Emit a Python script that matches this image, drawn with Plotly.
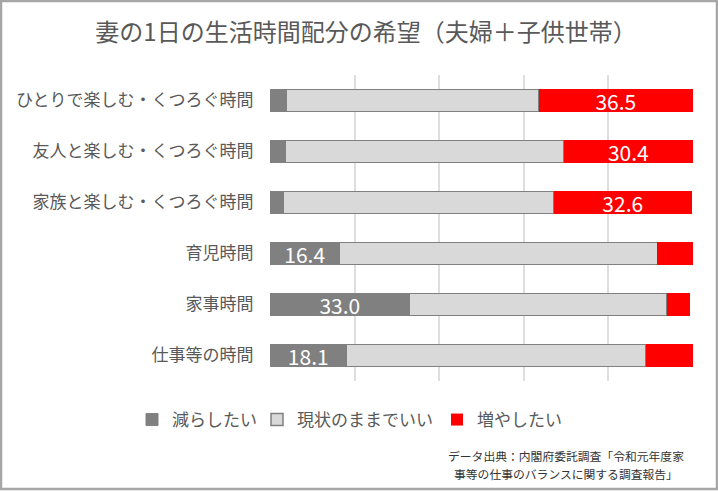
import plotly.graph_objects as go

categories = [
    "ひとりで楽しむ・くつろぐ時間",
    "友人と楽しむ・くつろぐ時間",
    "家族と楽しむ・くつろぐ時間",
    "育児時間",
    "家事時間",
    "仕事等の時間",
]
reduce_vals = [3.8, 3.5, 3.2, 16.4, 33.0, 18.1]
keep_vals = [59.7, 66.0, 63.9, 75.2, 60.9, 70.7]
increase_vals = [36.5, 30.4, 32.6, 8.4, 5.4, 11.2]
series_names = ["減らしたい", "現状のままでいい", "増やしたい"]
title_text = "妻の1日の生活時間配分の希望（夫婦＋子供世帯）"
source_lines = ["データ出典：内閣府委託調査「令和元年度家", "事等の仕事のバランスに関する調査報告」"]

FONT = "Noto Sans CJK JP"
GRAY_TXT = "#595959"

def labels(vals, minimum):
    return [f"{v:.1f}" if v >= minimum else "" for v in vals]

fig = go.Figure()
fig.add_trace(go.Bar(
    y=categories, x=reduce_vals, name=series_names[0], orientation="h",
    marker=dict(color="#808080", line=dict(color="#808080", width=1)),
    text=labels(reduce_vals, 10), textposition="inside", insidetextanchor="middle",
    constraintext="none",
    textfont=dict(color="white", size=21, family=FONT), legendwidth=80,
))
fig.add_trace(go.Bar(
    y=categories, x=keep_vals, name=series_names[1], orientation="h",
    marker=dict(color="#D9D9D9", line=dict(color="#808080", width=1.5)),
    legendwidth=135,
))
fig.add_trace(go.Bar(
    y=categories, x=increase_vals, name=series_names[2], orientation="h",
    marker=dict(color="#FF0000", line=dict(color="#FF0000", width=0)),
    text=labels(increase_vals, 20), textposition="inside", insidetextanchor="middle",
    constraintext="none",
    textfont=dict(color="white", size=21, family=FONT),
))

L, T, W, H = 270, 75, 423, 306
def px(xp):
    return (xp - L) / W
def py(yp):
    return (T + H - yp) / H

fig.update_layout(
    width=718, height=491,
    margin=dict(l=L, r=718 - L - W, t=T, b=491 - T - H),
    barmode="stack", bargap=0.56,
    paper_bgcolor="white", plot_bgcolor="white",
    font=dict(family=FONT, color=GRAY_TXT),
    title=dict(text=title_text, x=0.5 + 7 / 718, xanchor="center", xref="container",
               y=1 - 33 / 491, yanchor="middle",
               font=dict(size=24, color=GRAY_TXT, family=FONT)),
    xaxis=dict(range=[0, 100], dtick=20, showticklabels=False, showgrid=True,
               gridcolor="#DEDEDE", gridwidth=2, zeroline=False, showline=False,
               fixedrange=True),
    yaxis=dict(autorange="reversed", ticks="outside", ticklen=12,
               tickcolor="rgba(0,0,0,0)", tickfont=dict(size=17, color=GRAY_TXT, family=FONT),
               showgrid=False, zeroline=False, showline=False),
    legend=dict(orientation="h", x=px(132), xanchor="left", y=py(420), yanchor="middle",
                font=dict(size=17, color=GRAY_TXT, family=FONT), bgcolor="rgba(0,0,0,0)",
                traceorder="normal"),
    showlegend=True,
    uniformtext=dict(mode=False),
)

fig.add_annotation(text=source_lines[0], xref="paper", yref="paper", x=px(566), y=py(455),
                   xanchor="center", yanchor="middle", showarrow=False,
                   font=dict(size=11.8, color="#333333", family=FONT))
fig.add_annotation(text=source_lines[1], xref="paper", yref="paper", x=px(566), y=py(473),
                   xanchor="center", yanchor="middle", showarrow=False,
                   font=dict(size=11.8, color="#333333", family=FONT))

fig.add_shape(type="rect", xref="paper", yref="paper",
              x0=px(1), x1=px(717), y0=py(489), y1=py(1),
              line=dict(color="#A6A6A6", width=2.5), fillcolor="rgba(0,0,0,0)", layer="above")

fig.write_html("out.html", config={"displayModeBar": False},
               post_script="document.body.style.margin='0';")
